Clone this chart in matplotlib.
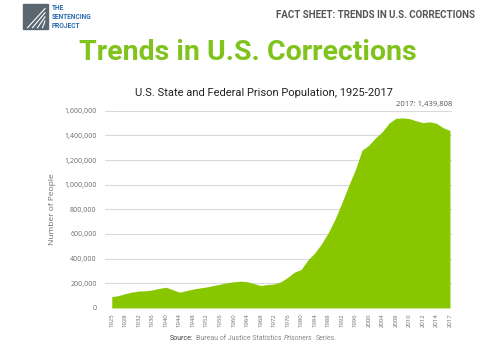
import numpy as np
import matplotlib.pyplot as plt
from matplotlib.patches import Rectangle

# tick labels on the (evenly spaced) category axis
years = ["1925", "1928", "1932", "1936", "1940", "1944", "1948", "1952", "1956",
         "1960", "1964", "1968", "1972", "1976", "1980", "1984", "1988", "1992",
         "1996", "2000", "2004", "2008", "2010", "2012", "2014", "2017"]

# population read at every half category step (51 values)
people = [91700, 100000, 116000, 129000, 137000, 139000, 146000, 158000, 168000,
          148000, 128000, 140000, 153000, 162000, 170000, 182000, 192000, 204000,
          212000, 217000, 213000, 198000, 182000, 190000, 194000, 212000, 248000,
          290000, 312000, 390000, 445000, 520000, 610000, 720000, 850000, 990000,
          1120000, 1280000, 1320000, 1380000, 1430000, 1500000, 1538000, 1542000,
          1536000, 1518000, 1503000, 1510000, 1498000, 1462000, 1439808]

green = "#88c700"
grey = "#6b6b6b"

fig = plt.figure(figsize=(5, 3.46), dpi=100)
plt.rcParams['font.family'] = ['Roboto', 'DejaVu Sans']

ax = fig.add_axes([0.21, 0.11, 0.694, 0.57])
x = np.arange(len(people)) / 2.0
ax.fill_between(x, people, 0, color=green, linewidth=0, zorder=2)
ax.set_xlim(-0.5, 25.15)
ax.set_ylim(0, 1600000)
ax.set_yticks(np.arange(0, 1600001, 200000))
ax.set_yticklabels(["0"] + ["{:,}".format(v) for v in range(200000, 1600001, 200000)],
                   fontsize=5, color=grey, family='Open Sans')
ax.set_xticks(np.arange(len(years)))
ax.set_xticklabels(years, rotation=90, fontsize=4.3, color=grey, family='Open Sans')
ax.tick_params(length=0, pad=6)
ax.tick_params(axis='x', pad=4)
ax.grid(axis='y', color='#d9d9d9', linewidth=0.8, zorder=0)
for s in ax.spines.values():
    s.set_visible(False)
ax.set_ylabel("Number of People", fontsize=6, color=grey, family='Open Sans', labelpad=6)
ax.text(1.0, 1.015, "2017: 1,439,808", transform=ax.transAxes, ha='right', va='bottom',
        fontsize=5.5, color='#555555', family='Open Sans')

# header
fig.text(0.528, 0.731, "U.S. State and Federal Prison Population, 1925-2017",
         ha='center', va='center', fontsize=8, color='#222222')
fig.text(0.495, 0.848, "Trends in U.S. Corrections", ha='center', va='center',
         fontsize=20.5, fontweight='bold', color='#7fc31c')
fig.text(0.95, 0.958, "FACT SHEET: TRENDS IN U.S. CORRECTIONS", ha='right', va='center',
         fontsize=7, fontweight='bold', color='#555555')

# logo
fig.patches.append(Rectangle((0.045, 0.915), 0.05, 0.072, transform=fig.transFigure,
                             color='#5b6770', zorder=1))
for k in range(4):
    fig.lines.append(plt.Line2D([0.055 + k * 0.01, 0.09], [0.92, 0.975 - k * 0.012],
                                transform=fig.transFigure, color='white', lw=0.8))
fig.text(0.103, 0.951, "THE\nSENTENCING\nPROJECT", ha='left', va='center',
         fontsize=4.8, fontweight='bold', color='#2b6cb0', linespacing=1.1)

# source line, pieces placed one after another
renderer = fig.canvas.get_renderer()
parts = [("Source:", '#444444', 'normal'),
         ("Bureau of Justice Statistics", '#888888', 'normal'),
         ("Prisoners", '#888888', 'italic'),
         ("Series.", '#888888', 'normal')]
xpos = 0.34
for txt, col, sty in parts:
    t = fig.text(xpos, 0.022, txt, ha='left', va='center', fontsize=5, color=col, style=sty)
    bb = t.get_window_extent(renderer)
    xpos += bb.width / fig.bbox.width + 0.005

fig.savefig("out.png", dpi=100)
